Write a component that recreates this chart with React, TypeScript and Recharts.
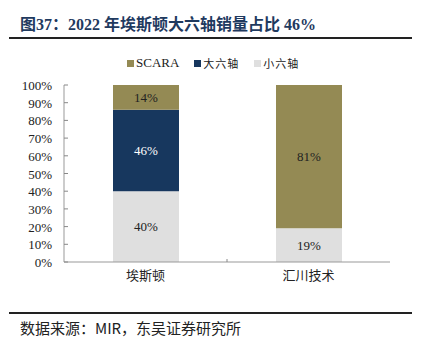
import { BarChart, Bar, XAxis, YAxis, LabelList } from "recharts";

const companies = ["埃斯顿", "汇川技术"];
const smallSix = [40, 19];
const bigSix = [46, 0];
const scara = [14, 81];
const yTicks = [0, 10, 20, 30, 40, 50, 60, 70, 80, 90, 100];

const data = companies.map((name, i) => ({
  name,
  small: smallSix[i],
  big: bigSix[i],
  scara: scara[i],
}));

const SERIF = '"Liberation Serif", "Times New Roman", "Noto Sans CJK SC", serif';
const CJK = '"Noto Sans CJK SC", "Liberation Serif", serif';

const COLORS = {
  scara: "#948A54",
  big: "#17375E",
  small: "#DFDFDF",
};

const LEGEND = [
  { key: "scara", label: "SCARA" },
  { key: "big", label: "大六轴" },
  { key: "small", label: "小六轴" },
] as const;

function YTick(props: any) {
  const { x, y, payload } = props;
  return (
    <g>
      <line x1={x + 12} x2={x + 16} y1={y} y2={y} stroke="#888" />
      <text x={x} y={y} dy={5} textAnchor="end" fontSize={13} fill="#222" fontFamily={SERIF}>
        {payload.value}%
      </text>
    </g>
  );
}

function XTick(props: any) {
  const { x, y, payload, index } = props;
  const half = payload.offset ?? 0;
  return (
    <g>
      {index === 0 && half > 0 && (
        <line x1={x + half} x2={x + half} y1={y - 8} y2={y - 11} stroke="#888" />
      )}
      <text x={x} y={y} dy={10} textAnchor="middle" fontSize={13} fill="#222" fontFamily={CJK}>
        {payload.value}
      </text>
    </g>
  );
}

const pctLabel = (v: any) => (v > 0 ? `${v}%` : "");

export default function App() {
  return (
    <div style={{ position: "absolute", left: 0, top: 0, width: 429, height: 351, background: "#fff" }}>
      <div
        style={{
          position: "absolute",
          left: 20,
          top: 11,
          fontFamily: SERIF,
          fontWeight: "bold",
          fontSize: 16,
          color: "#1F3A5F",
          whiteSpace: "nowrap",
        }}
      >
        图37：2022 年埃斯顿大六轴销量占比 46%
      </div>
      <div style={{ position: "absolute", left: 9, top: 37, width: 403, height: 2, background: "#222" }} />

      <div
        style={{
          position: "absolute",
          left: 127,
          top: 55,
          display: "flex",
          gap: 15,
          fontSize: 12,
          color: "#222",
          whiteSpace: "nowrap",
        }}
      >
        {LEGEND.map((l) => (
          <div key={l.key} style={{ display: "flex", alignItems: "center" }}>
            <span style={{ width: 7, height: 7, background: COLORS[l.key], marginRight: 2 }} />
            <span
              style={{
                fontFamily: l.key === "scara" ? SERIF : CJK,
                fontSize: l.key === "scara" ? 13 : 11,
                letterSpacing: l.key === "scara" ? 0 : 1,
              }}
            >
              {l.label}
            </span>
          </div>
        ))}
      </div>

      <div style={{ position: "absolute", left: 0, top: 0 }}>
        <BarChart width={429} height={300} data={data} margin={{ top: 85, right: 39, bottom: 8, left: 14 }}>
          <XAxis
            dataKey="name"
            height={30}
            tickLine={false}
            axisLine={{ stroke: "#999" }}
            tick={<XTick />}
            tickSize={0}
            tickMargin={8}
          />
          <YAxis
            width={50}
            domain={[0, 100]}
            ticks={yTicks}
            tickLine={false}
            tickSize={0}
            tickMargin={12}
            axisLine={{ stroke: "#999" }}
            tick={<YTick />}
            interval={0}
          />
          <Bar dataKey="small" stackId="a" fill={COLORS.small} barSize={66} isAnimationActive={false}>
            <LabelList dataKey="small" position="center" formatter={pctLabel} fill="#222" fontSize={13} fontFamily={SERIF} />
          </Bar>
          <Bar dataKey="big" stackId="a" fill={COLORS.big} barSize={66} isAnimationActive={false}>
            <LabelList dataKey="big" position="center" formatter={pctLabel} fill="#fff" fontSize={13} fontFamily={SERIF} />
          </Bar>
          <Bar dataKey="scara" stackId="a" fill={COLORS.scara} barSize={66} isAnimationActive={false}>
            <LabelList dataKey="scara" position="center" formatter={pctLabel} fill="#222" fontSize={13} fontFamily={SERIF} />
          </Bar>
        </BarChart>
      </div>

      <div style={{ position: "absolute", left: 9, top: 312, width: 403, height: 2, background: "#222" }} />
      <div
        style={{
          position: "absolute",
          left: 20,
          top: 317,
          fontFamily: CJK,
          fontSize: 15,
          color: "#222",
          whiteSpace: "nowrap",
        }}
      >
        数据来源：MIR，东吴证券研究所
      </div>
    </div>
  );
}
